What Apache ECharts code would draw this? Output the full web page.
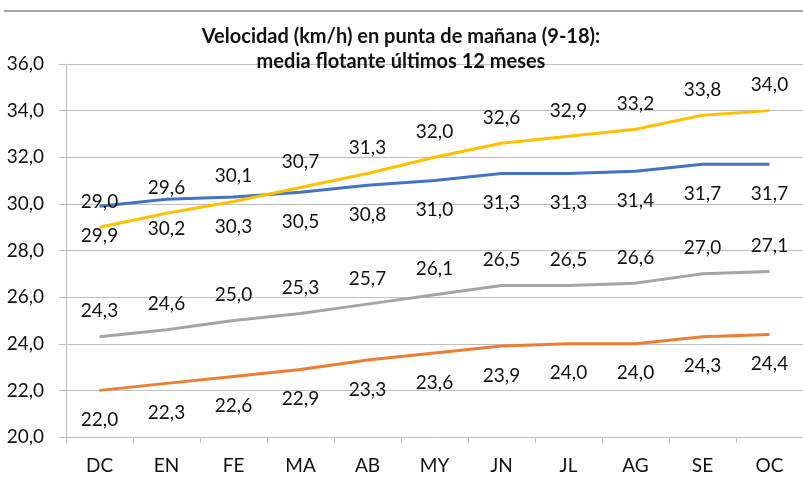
<!DOCTYPE html>
<html>
<head>
<meta charset="utf-8">
<script src="https://cdn.jsdelivr.net/npm/echarts@6/dist/echarts.min.js"></script>
<style>html,body{margin:0;padding:0;background:#fff}#c{width:803px;height:479px}</style>
</head>
<body>
<div id="c"></div>
<script>
const categories = ['DC','EN','FE','MA','AB','MY','JN','JL','AG','SE','OC'];
const yellowValues = [29.0,29.6,30.1,30.7,31.3,32.0,32.6,32.9,33.2,33.8,34.0];
const blueValues = [29.9,30.2,30.3,30.5,30.8,31.0,31.3,31.3,31.4,31.7,31.7];
const grayValues = [24.3,24.6,25.0,25.3,25.7,26.1,26.5,26.5,26.6,27.0,27.1];
const orangeValues = [22.0,22.3,22.6,22.9,23.3,23.6,23.9,24.0,24.0,24.3,24.4];
const titleText = 'Velocidad (km/h) en punta de mañana (9-18):\nmedia flotante últimos 12 meses';

const FONT = 'Lato';
const fmt = v => v.toFixed(1).replace('.', ',');
function mk(data, color, pos, dist) {
  return {
    type: 'line', data: data, symbol: 'circle', symbolSize: 0, showSymbol: true, smooth: false,
    lineStyle: {color: color, width: 3},
    itemStyle: {color: color},
    label: {show: true, position: pos, distance: dist, fontFamily: FONT, fontSize: 19, color: '#111',
      formatter: p => fmt(p.value)},
    emphasis: {disabled: true}, animation: false
  };
}
const chart = echarts.init(document.getElementById('c'));
chart.setOption({
  animation: false,
  title: {text: titleText, left: 396, top: 19, textAlign: 'center',
    textStyle: {fontFamily: FONT, fontWeight: 'bold', fontSize: 20, lineHeight: 25, color: '#111'}},
  graphic: [{type: 'line', shape: {x1: 4, y1: 11, x2: 803, y2: 11}, style: {stroke: '#a6a6a6', lineWidth: 2}}],
  grid: {left: 66, top: 64, width: 739, bottom: 42, containLabel: false},
  xAxis: {type: 'category', data: categories, boundaryGap: true,
    axisLine: {lineStyle: {color: '#bfbfbf', width: 1}},
    axisTick: {show: true, length: 6, lineStyle: {color: '#bfbfbf'}},
    axisLabel: {fontFamily: FONT, fontSize: 19, color: '#111', margin: 19}},
  yAxis: {type: 'value', min: 20, max: 36, interval: 2,
    axisLine: {show: true, lineStyle: {color: '#bfbfbf'}},
    axisTick: {show: true, length: 7, lineStyle: {color: '#bfbfbf'}},
    splitLine: {lineStyle: {color: '#bfbfbf', width: 1}},
    axisLabel: {fontFamily: FONT, fontSize: 19, color: '#111', margin: 22, formatter: v => fmt(v)}},
  series: [
    mk(grayValues, '#A5A5A5', 'top', 16),
    mk(orangeValues, '#ED7D31', 'bottom', 20),
    mk(blueValues, '#4472C4', 'bottom', 20),
    mk(yellowValues, '#FFC000', 'top', 16)
  ]
});
</script>
</body>
</html>
